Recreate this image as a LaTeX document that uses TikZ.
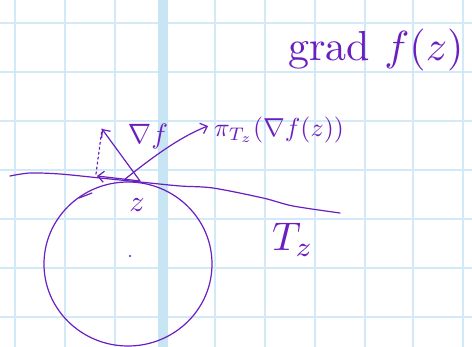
\documentclass[tikz,border=0pt]{standalone}
\usetikzlibrary{arrows.meta}
\definecolor{ink}{HTML}{6A1FC0}
\definecolor{gridc}{HTML}{D2EAF7}
\definecolor{band}{HTML}{C8E5F4}
\begin{document}
\begin{tikzpicture}[x=1pt,y=-1pt,
  pen/.style={draw=ink, line width=1.2pt, line cap=round, line join=round},
  arr/.style={pen, -{Straight Barb[length=6pt,width=11pt,line width=1.2pt]}},
  lbl/.style={text=ink, inner sep=0pt, outer sep=0pt},
  gl/.style={draw=gridc, line width=2pt}]
\useasboundingbox (0,0) rectangle (472,347);
\fill[white] (0,0) rectangle (472,347);
\foreach \x in {15,65,115,215,265,315,365,413,463} \draw[gl] (\x,0) -- (\x,347);
\foreach \y in {23,72,121,170,219,268,317} \draw[gl] (0,\y) -- (472,\y);
\fill[band] (158,0) rectangle (168,347);
% sphere
\draw[pen] (128,264) ellipse [x radius=84, y radius=82];
\draw[pen] (79,198) -- (92,193);
\fill[ink] (130,256) circle (1.1pt);
% tangent plane
\draw[pen] plot[smooth, tension=0.5] coordinates {(10,176) (30,173) (60,174) (100,178) (140,182) (180,186) (213,188) (263,198) (293,206) (340,213)};
% points
\coordinate (z0) at (140,181);
\coordinate (z1) at (124,180);
\coordinate (gtip) at (102,129);
\coordinate (ptip) at (97,176);
\coordinate (pitip) at (208,126);
\coordinate (foot) at (96,174);
\draw[arr] (z0) -- (gtip);
\draw[arr] (z0) -- (ptip);
\draw[arr] (z1) .. controls (155,155) and (182,136) .. (pitip);
\draw[pen, dash pattern=on 2pt off 3pt] (foot) -- (gtip);
% labels
\node[lbl, scale=2.8] (grad) at (148,137) {$\nabla f$};
\node[lbl, scale=2.6, anchor=west] (proj) at (214,130) {$\pi_{T_z}(\nabla f(z))$};
\node[lbl, scale=3] (zlab) at (137,205) {$z$};
\node[lbl, scale=4] (tz) at (293,240) {$T_z$};
\node[lbl, scale=4.2] (title) at (376,50) {grad $f(z)$};
\end{tikzpicture}
\end{document}
